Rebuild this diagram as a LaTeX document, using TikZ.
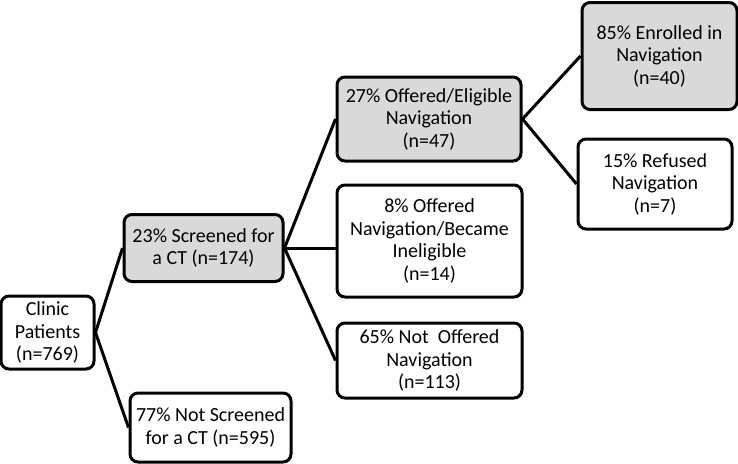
\documentclass[tikz,border=0pt]{standalone}
\usepackage{fontspec}
\setmainfont{Carlito}
\usepackage{tikz}
\usetikzlibrary{positioning}
\definecolor{boxgray}{RGB}{217,217,217}
\tikzstyle{block} = [draw, rectangle, rounded corners=8pt, line width=3pt, align=center, inner sep=0pt, font=\fontsize{20}{22.5}\selectfont]
\tikzstyle{shaded} = [block, fill=boxgray]
\tikzstyle{branch} = [line width=3pt]

\begin{document}
\begin{tikzpicture}[x=1pt, y=-1pt]
	\useasboundingbox (0,0) rectangle (738,463);
	\node [block, minimum width=93pt, minimum height=73pt] (clinic) at (47.5,332.5) {Clinic\\Patients\\(n=769)};
	\node [shaded, minimum width=159pt, minimum height=67pt] (screened) at (203.5,248) {23\% Screened for\\a CT (n=174)};
	\node [block, minimum width=161pt, minimum height=69pt] (notscreened) at (210.5,427.5) {77\% Not Screened\\for a CT (n=595)};
	\node [shaded, minimum width=184pt, minimum height=84pt] (offered) at (429,119) {27\% Offered/Eligible\\Navigation\\(n=47)};
	\node [block, minimum width=185pt, minimum height=112pt] (ineligible) at (429.5,241) {8\% Offered\\Navigation/Became\\Ineligible\\(n=14)};
	\node [block, minimum width=185pt, minimum height=75pt] (notoffered) at (429.5,360.5) {65\% Not~ Offered\\Navigation\\(n=113)};
	\node [shaded, minimum width=155pt, minimum height=107pt] (enrolled) at (659.5,56) {85\% Enrolled in\\Navigation\\(n=40)};
	\node [block, minimum width=154pt, minimum height=90pt] (refused) at (655,184) {15\% Refused\\Navigation\\(n=7)};

	\draw [branch] (clinic.east) -- (screened.west);
	\draw [branch] (clinic.east) -- (notscreened.west);
	\draw [branch] (screened.east) -- (offered.west);
	\draw [branch] (screened.east) -- (screened.east -| ineligible.west);
	\draw [branch] (screened.east) -- (notoffered.west);
	\draw [branch] (offered.east) -- (enrolled.west);
	\draw [branch] (offered.east) -- (refused.west);
\end{tikzpicture}
\end{document}
